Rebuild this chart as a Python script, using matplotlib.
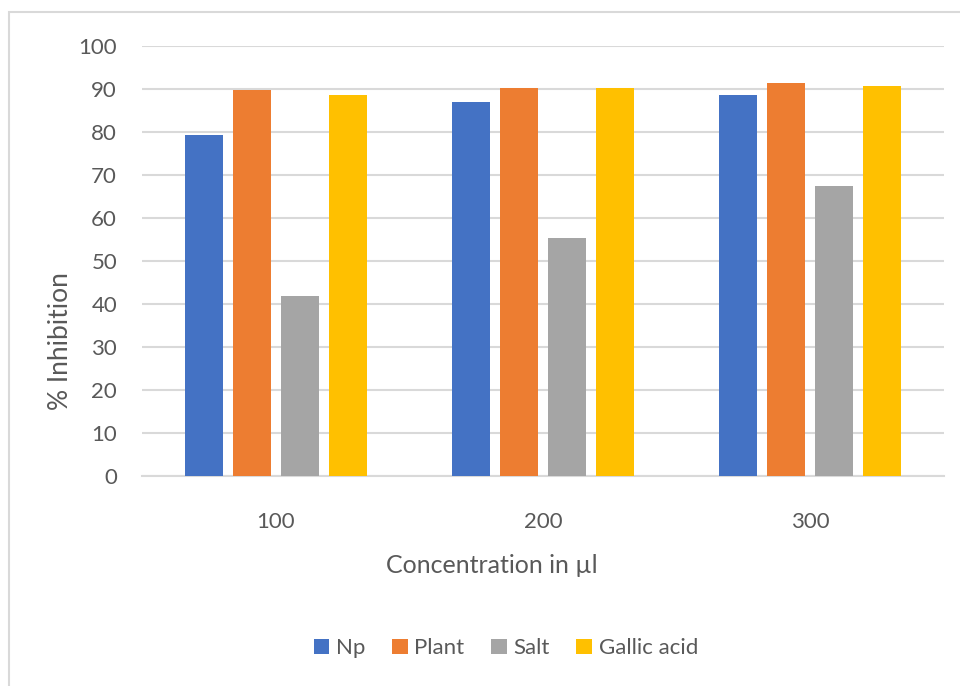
import numpy as np
import matplotlib.pyplot as plt
from matplotlib.patches import Rectangle

plt.rcParams['font.family'] = ['Lato', 'DejaVu Sans']

concentrations = ['100', '200', '300']
series_names = ['Np', 'Plant', 'Salt', 'Gallic acid']
np_vals = [79.2, 86.9, 88.6]
plant_vals = [89.8, 90.2, 91.3]
salt_vals = [41.8, 55.3, 67.5]
gallic_vals = [88.6, 90.2, 90.8]
colors = ['#4472C4', '#ED7D31', '#A5A5A5', '#FFC000']

text_col = '#595959'
grid_col = '#D9D9D9'

fig = plt.figure(figsize=(9.6, 6.86), dpi=100)
ax = fig.add_axes([0.148, 0.306, 0.835, 0.627])

# light frame round the chart area (top and left edges visible)
fig.patches.append(Rectangle((9 / 960, -0.05), 1.1, 1.05 - 12 / 686,
                             transform=fig.transFigure, fill=False,
                             edgecolor=grid_col, linewidth=1.5))

x = np.arange(len(concentrations))
width = 0.142
step = 0.18
all_vals = [np_vals, plant_vals, salt_vals, gallic_vals]
for i, (name, vals) in enumerate(zip(series_names, all_vals)):
    ax.bar(x + (i - 1.5) * step, vals, width, color=colors[i], label=name,
           zorder=3)

ax.set_xlim(-0.5, 2.5)
ax.set_ylim(0, 100)
ax.set_yticks(range(0, 101, 10))
ax.set_xticks(x)
ax.set_xticklabels(concentrations)
ax.grid(axis='y', color=grid_col, linewidth=1.5, zorder=0)
for s in ['top', 'right', 'left']:
    ax.spines[s].set_visible(False)
ax.spines['bottom'].set_color(grid_col)
ax.spines['bottom'].set_linewidth(1.5)
ax.tick_params(length=0, labelsize=16, colors=text_col)
ax.tick_params(axis='y', pad=18)
ax.tick_params(axis='x', pad=26)

ax.set_ylabel('% Inhibition', fontsize=19, color=text_col)
ax.yaxis.set_label_coords(-0.102, 0.314)
ax.set_xlabel('Concentration in µl', fontsize=18, color=text_col)
ax.xaxis.set_label_coords(0.436, -0.207)
ax.xaxis.label.set_va('center')
ax.yaxis.label.set_va('center')

ax.legend(loc='center', bbox_to_anchor=(0.527, 0.055), bbox_transform=fig.transFigure,
          ncol=4, frameon=False, fontsize=16, handlelength=0.7, handleheight=0.7,
          handletextpad=0.3, columnspacing=1.2, labelcolor=text_col)

fig.savefig('out.png', dpi=100)
